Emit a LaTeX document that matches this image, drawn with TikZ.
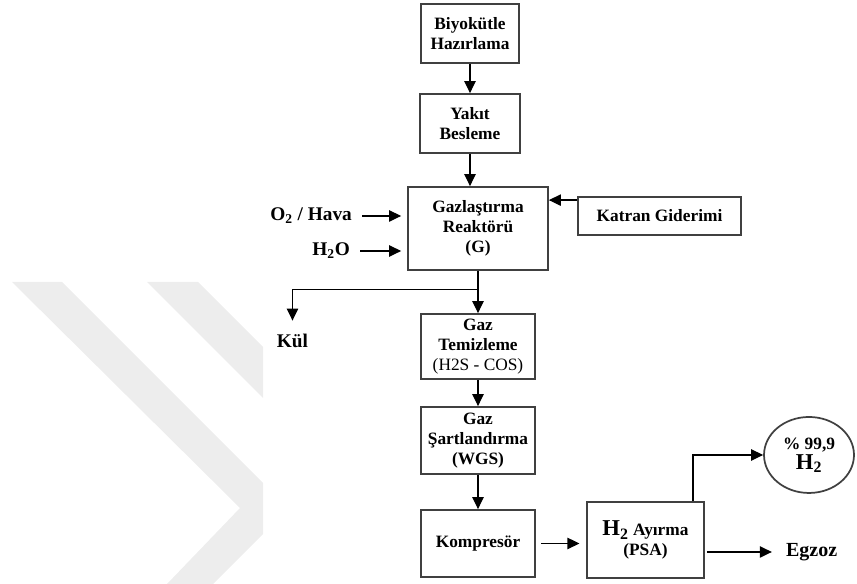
\documentclass[tikz,border=0pt]{standalone}
\usepackage{fontspec}
\setmainfont{Liberation Serif}
\usetikzlibrary{positioning, shapes.geometric, arrows.meta}

\tikzset{
  kutu/.style={draw=black!75, line width=1.3pt, fill=white, align=center, inner sep=2pt,
    font=\bfseries\fontsize{13}{15}\selectfont},
  etiket/.style={font=\bfseries\fontsize{14.5}{17}\selectfont, inner sep=0pt},
  ok/.style={-{Triangle[length=9pt,width=8.5pt]}, line width=0.9pt}
}

\begin{document}
\begin{tikzpicture}[node distance=2.5cm, on grid]
  % filigran (arka plan)
  \begin{scope}[x=0.75pt, y=-0.75pt]
    \useasboundingbox (0,0) rectangle (857,584);
    \fill[black!7] (12,282) -- (240,508) -- (167,584) -- (213,584) -- (263,534)
      -- (263,483) -- (62,282) -- cycle;
    \fill[black!7] (147,282) -- (263,398) -- (263,347) -- (198,282) -- cycle;
  \end{scope}

  \node[kutu, minimum width=2.583cm, minimum height=1.555cm] (bio) at (12.389,-0.883) {Biyokütle\\Hazırlama};
  \node[kutu, minimum width=2.636cm, minimum height=1.555cm] (yakit) [below=2.372cm of bio] {Yakıt\\Besleme};
  \node[kutu, minimum width=3.690cm, minimum height=2.188cm] (reaktor) [below=2.768cm of yakit, xshift=0.211cm] {Gazlaştırma\\Reaktörü\\(G)};
  \node[kutu, minimum width=4.297cm, minimum height=1.002cm] (katran) [above right=0.330cm and 4.784cm of reaktor] {Katran Giderimi};
  \node[kutu, minimum width=3.005cm, minimum height=1.713cm] (temizleme) [below=3.110cm of reaktor] {Gaz\\Temizleme\\{\mdseries (H2S - COS)}};
  \node[kutu, minimum width=3.005cm, minimum height=1.766cm] (sart) [below=2.478cm of temizleme] {Gaz\\Şartlandırma\\(WGS)};
  \node[kutu, minimum width=3.005cm, minimum height=1.766cm] (kompresor) [below=2.715cm of sart] {Kompresör};
  \node[kutu, minimum width=3.084cm, minimum height=2.003cm] (ayirma) [above right=0.092cm and 4.415cm of kompresor] {{\fontsize{17}{17}\selectfont H\textsubscript{2}} Ayırma\\(PSA)};
  \node[kutu, ellipse, inner sep=0pt, minimum width=2.372cm, minimum height=2.003cm] (saf) [above right=2.241cm and 4.310cm of ayirma] {\% 99,9\\{\fontsize{17}{17}\selectfont H\textsubscript{2}}};

  \node[etiket] (o2) [left=1.450cm of reaktor.west, anchor=east, yshift=0.330cm] {O\textsubscript{2} / Hava};
  \node[etiket] (h2o) [left=1.503cm of reaktor.west, anchor=east, yshift=-0.593cm] {H\textsubscript{2}O};
  \node[etiket] (kul) [below left=2.966cm and 4.890cm of reaktor] {Kül};
  \node[etiket, font=\bfseries\fontsize{15}{17}\selectfont] (egzoz) [right=2.135cm of ayirma.east, anchor=west, yshift=-0.316cm] {Egzoz};

  % ana akis
  \draw[ok] (bio) -- (yakit);
  \draw[ok] (yakit.south) -- (yakit.south |- reaktor.north);
  \draw[ok] (reaktor) -- (temizleme);
  \draw[ok] (temizleme) -- (sart);
  \draw[ok] (sart) -- (kompresor);
  \draw[ok, shorten <=4pt, shorten >=5pt] (kompresor) -- (kompresor -| ayirma.west);

  % girdiler ve yan akislar
  \draw[ok, shorten <=7.5pt, shorten >=4.5pt] (o2) -- (o2 -| reaktor.west);
  \draw[ok, shorten <=7.5pt, shorten >=4.5pt] (h2o) -- (h2o -| reaktor.west);
  \draw[ok] ([yshift=-3pt]katran.north west) -- ([yshift=-3pt]katran.north west -| reaktor.east);
  \draw[ok, shorten >=10pt] (reaktor.south) -- ++(0,-0.50) -| (kul.north);
  \draw[ok] ([xshift=1.252cm]ayirma.north) |- (saf.west);
  \draw[ok, shorten <=1.5pt, shorten >=10.5pt] (ayirma.east |- egzoz) -- (egzoz.west);
\end{tikzpicture}
\end{document}
